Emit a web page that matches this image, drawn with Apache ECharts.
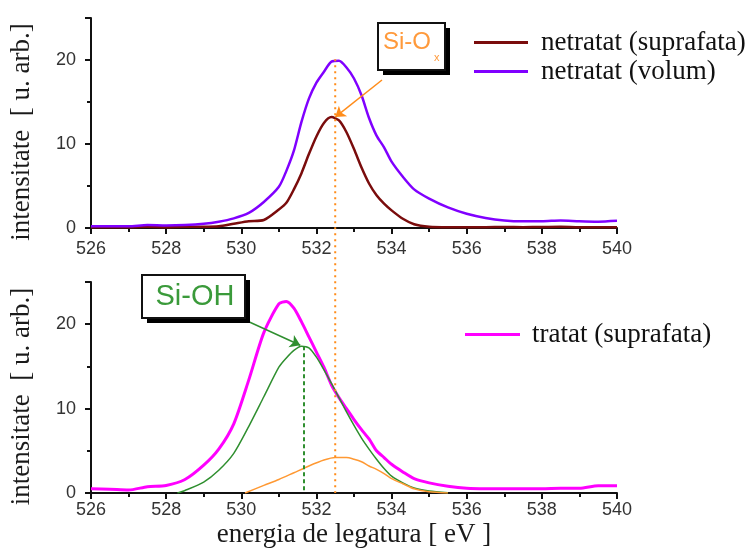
<!DOCTYPE html>
<html>
<head>
<meta charset="utf-8">
<script src="https://cdn.jsdelivr.net/npm/echarts@6/dist/echarts.min.js"></script>
<style>
  html, body { margin: 0; padding: 0; background: #ffffff; }
  #main { width: 753px; height: 554px; }
</style>
</head>
<body>
<div id="main"></div>
<script>
// Binding energy grid (eV) shared by the measured spectra
const energy = [526, 526.5, 527, 527.5, 528, 528.5, 529, 529.4, 529.8, 530.2, 530.6,
  531.0, 531.2, 531.4, 531.6, 531.8, 532.0, 532.2, 532.4, 532.6, 532.8,
  533.0, 533.2, 533.4, 533.6, 533.8, 534.0, 534.3, 534.6, 535.0, 535.5,
  536, 536.5, 537, 537.5, 538, 538.5, 539, 539.5, 540];

// Untreated sample, surface (arb. units)
const untreatedSurface = [0.1, 0.1, 0.1, 0.15, 0.1, 0.15, 0.15, 0.2, 0.5, 0.8, 0.95,
  2.2, 3.0, 4.6, 6.5, 8.8, 10.9, 12.5, 13.2, 12.8, 11.4,
  9.4, 7.2, 5.3, 3.9, 2.9, 2.1, 1.1, 0.45, 0.15, 0.1,
  0.1, 0.1, 0.12, 0.1, 0.12, 0.15, 0.1, 0.1, 0.1];

// Untreated sample, bulk
const untreatedBulk = [0.2, 0.2, 0.2, 0.35, 0.3, 0.35, 0.5, 0.75, 1.15, 1.8, 3.1,
  4.9, 6.8, 9.2, 12.6, 15.4, 17.3, 18.6, 19.8, 19.9, 19.1,
  17.8, 15.8, 13.1, 11.0, 9.6, 7.9, 6.1, 4.6, 3.5, 2.45,
  1.7, 1.2, 0.9, 0.8, 0.8, 0.9, 0.8, 0.75, 0.85];

// Treated sample, surface
const treatedSurface = [0.5, 0.45, 0.35, 0.75, 0.9, 1.6, 3.3, 5.2, 8.2, 13.4, 19.0,
  22.4, 22.7, 21.9, 20.3, 18.5, 16.7, 14.9, 12.8, 11.3, 10.0,
  8.7, 7.5, 6.4, 5.0, 4.2, 3.4, 2.5, 1.7, 1.2, 0.8,
  0.55, 0.5, 0.5, 0.5, 0.5, 0.55, 0.55, 0.85, 0.85];

// Fitted Si-OH component
const siohEnergy = [528.3, 528.5, 529, 529.4, 529.8, 530.2, 530.6, 531.0, 531.2, 531.4,
  531.6, 531.8, 532.0, 532.2, 532.4, 532.6, 532.8, 533.0, 533.2, 533.4,
  533.6, 533.8, 534.0, 534.3, 534.6, 535.0, 535.5];
const siohFit = [0, 0.3, 1.3, 2.7, 4.7, 7.9, 11.4, 14.9, 16.0, 16.9,
  17.4, 17.2, 16.1, 14.6, 13.0, 11.3, 9.6, 8.0, 6.5, 5.2,
  4.0, 2.9, 2.0, 1.2, 0.6, 0.25, 0.02];

// Fitted Si-Ox component
const sioxEnergy = [530.1, 530.6, 531.0, 531.4, 531.8, 532.2, 532.5, 532.8, 533.0,
  533.2, 533.4, 533.6, 533.8, 534.0, 534.3, 534.6, 535.0, 535.5];
const sioxFit = [0, 0.9, 1.6, 2.4, 3.2, 3.9, 4.2, 4.2, 4.0,
  3.7, 3.2, 2.8, 2.3, 1.7, 1.1, 0.5, 0.15, 0];

// Peak positions marked on the plots [eV, intensity]
const sioxPeakSurface = [532.5, 13.2];
const sioxPeakBulk = [532.5, 20.1];
const siohPeak = [531.65, 17.4];

const xTicks = { min: 526, max: 540, interval: 2 };
const yTicks = { min: 0, max: 25, interval: 10 };

const pairs = (xs, ys) => xs.map((x, i) => [x, ys[i]]);

const C = {
  maroon: '#7a0c0c',
  violet: '#8000ff',
  magenta: '#ff00ff',
  green: '#2f8f2f',
  orange: '#ff8c1a',
  axis: '#111111',
  label: '#333333'
};

const serif = '"Liberation Serif", "Times New Roman", serif';
const sans = '"Liberation Sans", Arial, sans-serif';

const majorTick = () => ({ show: true, length: 6, lineStyle: { color: C.axis, width: 2 } });
const minorTick = () => ({ show: true, splitNumber: 2, length: 4, lineStyle: { color: C.axis, width: 2 } });

function xAxisCfg(gridIndex, margin, extra) {
  return Object.assign({
    type: 'value', gridIndex,
    min: xTicks.min, max: xTicks.max, interval: xTicks.interval,
    axisLine: { show: true, onZero: false, lineStyle: { color: C.axis, width: 2 } },
    axisTick: majorTick(),
    minorTick: minorTick(),
    splitLine: { show: false },
    axisLabel: { color: C.label, fontFamily: sans, fontSize: 18, margin }
  }, extra || {});
}

function yAxisCfg(gridIndex) {
  return {
    type: 'value', gridIndex,
    min: yTicks.min, max: yTicks.max, interval: yTicks.interval,
    name: 'intensitate  [ u. arb.]',
    nameLocation: 'middle', nameGap: 56,
    nameTextStyle: { fontFamily: serif, fontSize: 27, color: '#1a1a1a', padding: [0, 18, 0, 0] },
    axisLine: { show: true, onZero: false, lineStyle: { color: C.axis, width: 2 } },
    axisTick: majorTick(),
    minorTick: minorTick(),
    splitLine: { show: false },
    axisLabel: { color: C.label, fontFamily: sans, fontSize: 18, margin: 15, showMaxLabel: false }
  };
}

const chart = echarts.init(document.getElementById('main'), null, { renderer: 'canvas' });

const arrowEnd = (coord, color) => ({
  coord, symbol: 'arrow', symbolSize: 10,
  lineStyle: { color, width: 1.5, type: 'solid' }
});

const lineSeries = (name, axis, xs, ys, color, width) => ({
  name, type: 'line', xAxisIndex: axis, yAxisIndex: axis,
  data: pairs(xs, ys), showSymbol: false, smooth: 0.25,
  lineStyle: { color, width }, itemStyle: { color }
});

const option = {
  animation: false,
  backgroundColor: '#ffffff',
  grid: [
    { left: 89, top: 18, width: 528, height: 210 },
    { left: 89, top: 282, width: 528, height: 211 }
  ],
  xAxis: [
    xAxisCfg(0, 12),
    xAxisCfg(1, 8, {
      name: 'energia de legatura [ eV ]',
      nameLocation: 'middle', nameGap: 28,
      nameTextStyle: { fontFamily: serif, fontSize: 27, color: '#1a1a1a' }
    })
  ],
  yAxis: [yAxisCfg(0), yAxisCfg(1)],
  legend: [
    {
      data: ['netratat (suprafata)', 'netratat (volum)'],
      orient: 'vertical', left: 469, top: 24,
      itemWidth: 54, itemHeight: 3, itemGap: 2, icon: 'rect',
      selectedMode: false,
      textStyle: { fontFamily: serif, fontSize: 27, color: '#111', padding: [0, 0, 0, 8] }
    },
    {
      data: ['tratat (suprafata)'],
      orient: 'vertical', left: 460, top: 316,
      itemWidth: 55, itemHeight: 3, icon: 'rect',
      selectedMode: false,
      textStyle: { fontFamily: serif, fontSize: 27, color: '#111', padding: [0, 0, 0, 7] }
    }
  ],
  series: [
    Object.assign(lineSeries('netratat (suprafata)', 0, energy, untreatedSurface, C.maroon, 2.5), {
      markLine: {
        silent: true, animation: false, label: { show: false },
        data: [[
          { x: 382, y: 80, symbol: 'none', lineStyle: { color: C.orange, width: 1.5, type: 'solid' } },
          arrowEnd(sioxPeakSurface, C.orange)
        ]]
      }
    }),
    lineSeries('netratat (volum)', 0, energy, untreatedBulk, C.violet, 2.5),
    lineSeries('tratat (suprafata)', 1, energy, treatedSurface, C.magenta, 3),
    Object.assign(lineSeries('Si-OH', 1, siohEnergy, siohFit, C.green, 1.5), {
      markLine: {
        silent: true, animation: false, label: { show: false },
        data: [
          [
            { coord: siohPeak, symbol: 'none', lineStyle: { color: C.green, width: 2, type: [4, 3] } },
            { coord: [siohPeak[0], 0], symbol: 'none', lineStyle: { color: C.green, width: 2, type: [4, 3] } }
          ],
          [
            { x: 245, y: 320, symbol: 'none', lineStyle: { color: C.green, width: 1.5, type: 'solid' } },
            arrowEnd([siohPeak[0] - 0.08, siohPeak[1] + 0.1], C.green)
          ]
        ]
      }
    }),
    lineSeries('Si-Ox', 1, sioxEnergy, sioxFit, '#ff9933', 1.5)
  ]
};

chart.setOption(option);

// Annotation boxes and the dotted Si-Ox line running through both panels
const peakTopPx = chart.convertToPixel({ gridIndex: 0 }, sioxPeakBulk);
const peakBasePx = chart.convertToPixel({ gridIndex: 1 }, [sioxPeakBulk[0], 0]);

function labelBox(x, y, w, h) {
  return [
    { type: 'rect', shape: { x: x + 5, y: y + 5, width: w, height: h }, style: { fill: '#000' }, z: 10 },
    { type: 'rect', shape: { x: x, y: y, width: w, height: h }, style: { fill: '#fff', stroke: '#111', lineWidth: 2 }, z: 11 }
  ];
}

chart.setOption({
  graphic: [
    {
      type: 'line', z: 5,
      shape: { x1: peakTopPx[0], y1: peakTopPx[1], x2: peakBasePx[0], y2: peakBasePx[1] },
      style: { stroke: C.orange, lineWidth: 2, lineDash: [2, 4] }
    },
    ...labelBox(378, 23, 67, 47),
    { type: 'text', z: 12, style: { text: 'Si-O', x: 383, y: 42, fill: '#ff9a3c', font: '24px ' + sans, textVerticalAlign: 'middle' } },
    { type: 'text', z: 12, style: { text: 'x', x: 434, y: 58, fill: '#ff9a3c', font: '11px ' + sans, textVerticalAlign: 'middle' } },
    ...labelBox(142, 275, 103, 43),
    { type: 'text', z: 12, style: { text: 'Si-OH', x: 195, y: 297, fill: '#3a9a3a', font: '29px ' + sans, textAlign: 'center', textVerticalAlign: 'middle' } }
  ]
});
</script>
</body>
</html>
